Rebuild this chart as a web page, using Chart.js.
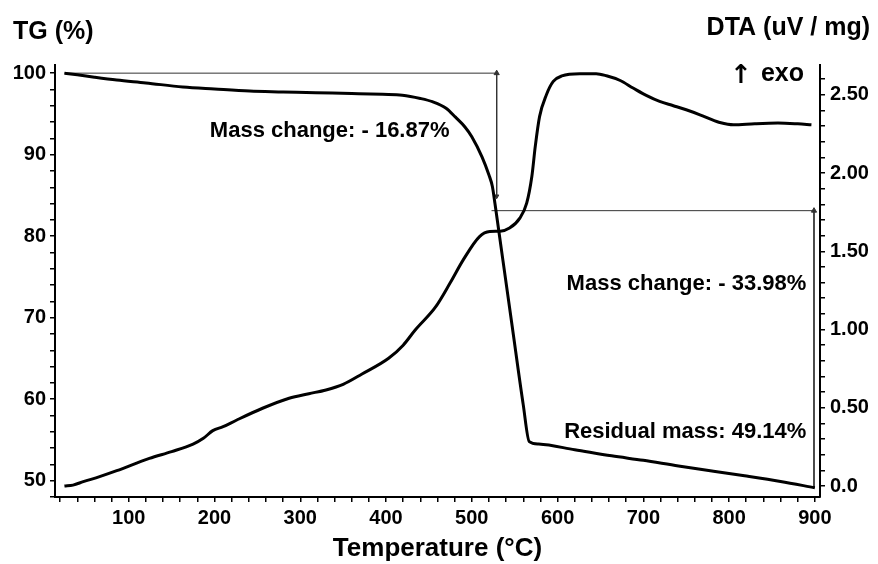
<!DOCTYPE html>
<html>
<head>
<meta charset="utf-8">
<script src="https://cdn.jsdelivr.net/npm/chart.js@4.4.1/dist/chart.umd.min.js"></script>
<style>
  body { margin: 0; background: #fff; }
  canvas { display: block; }
</style>
</head>
<body>
<canvas id="tgChart" width="878" height="564"></canvas>
<script>
// temperature (°C) and mass (%)
const tgTemp = [25, 40, 60, 86, 120, 163, 200, 241, 280, 318, 360, 396, 419, 440, 454, 470, 481, 492, 500, 512, 520, 524, 527, 531, 547, 560, 567, 578, 620, 663, 700, 741, 780, 818, 860, 900];
const tgMass = [100.0, 99.8, 99.5, 99.15, 98.8, 98.3, 98.05, 97.8, 97.7, 97.6, 97.5, 97.4, 97.3, 96.9, 96.5, 95.7, 94.6, 93.4, 92.2, 89.7, 87.5, 86.1, 84.0, 81.0, 69.0, 59.3, 54.8, 54.5, 53.8, 53.05, 52.5, 51.8, 51.2, 50.6, 49.9, 49.14];

// DTA signal (uV/mg)
const dtaTemp = [25, 35, 47, 66, 86, 124, 150, 175, 187, 198, 210, 226, 256, 287, 310, 330, 350, 372, 403, 420, 434, 458, 475, 490, 509, 521, 533, 544, 556, 564, 570, 574, 579, 587, 595, 605, 626, 645, 657, 673, 688, 704, 719, 735, 750, 766, 782, 789, 805, 830, 857, 880, 896];
const dtaVal = [0.0, 0.006, 0.028, 0.06, 0.098, 0.177, 0.22, 0.268, 0.305, 0.354, 0.379, 0.422, 0.497, 0.561, 0.59, 0.614, 0.65, 0.716, 0.816, 0.90, 0.997, 1.146, 1.30, 1.445, 1.594, 1.626, 1.628, 1.648, 1.712, 1.808, 1.978, 2.17, 2.36, 2.50, 2.585, 2.62, 2.634, 2.634, 2.621, 2.591, 2.543, 2.494, 2.457, 2.43, 2.404, 2.372, 2.336, 2.323, 2.308, 2.315, 2.319, 2.314, 2.308];

// guide lines for the mass steps
const startMass = 100;
const stepMass = 83.13;
const residualMass = 49.14;
const topLine = [{x: 25, y: startMass}, {x: 529, y: startMass}];
const step1Arrow = [{x: 529, y: startMass}, {x: 529, y: 84.9}];
const midLine = [{x: 523, y: stepMass}, {x: 900, y: stepMass}];
const step2Arrow = [{x: 899, y: stepMass}, {x: 899, y: residualMass}];

// ticks
const xMajor = [100, 200, 300, 400, 500, 600, 700, 800, 900];
const yMajor = [50, 60, 70, 80, 90, 100];
const y2Major = [0, 0.5, 1.0, 1.5, 2.0, 2.5];
const y2Labels = ['0.0', '0.50', '1.00', '1.50', '2.00', '2.50'];

const FONT = "'Liberation Sans', Arial, sans-serif";

function range(a, b, s) {
    let out = [];
    for (let v = a; v <= b + 1e-9; v += s) out.push(Math.round(v * 100) / 100);
    return out;
}

function pts(xs, ys) {
    return xs.map((x, i) => ({x: x, y: ys[i]}));
}

function axisStyle() {
    return {
        border: { display: true, color: '#000', width: 2 },
        grid: { display: true, drawOnChartArea: false, drawTicks: true, tickLength: 5, color: '#000', lineWidth: 1.5 },
    };
}

const labelsPlugin = {
    id: 'labels',
    afterDraw(chart) {
        const ctx = chart.ctx;
        const x = chart.scales.x, y = chart.scales.y;
        ctx.save();
        ctx.fillStyle = '#000';
        ctx.textBaseline = 'middle';
        ctx.font = 'bold 25px ' + FONT;
        ctx.textAlign = 'left';
        ctx.fillText('TG (%)', 13, 32);
        ctx.textAlign = 'right';
        ctx.fillText('DTA (uV / mg)', 870, 28);
        ctx.fillText('exo', 804, 74);
        ctx.font = "bold 26px 'DejaVu Sans', sans-serif";
        ctx.fillText('\u2191', 752, 76);

        ctx.font = 'bold 22px ' + FONT;
        ctx.fillText('Mass change: - 16.87%', x.getPixelForValue(474), y.getPixelForValue(92.95));
        ctx.fillText('Mass change: - 33.98%', x.getPixelForValue(890), y.getPixelForValue(74.1));
        ctx.fillText('Residual mass: 49.14%', x.getPixelForValue(890), y.getPixelForValue(56.0));
        ctx.restore();
    }
};

function guide(data, pointSizes, rotations) {
    return {
        data: data,
        yAxisID: 'y',
        borderColor: '#333',
        backgroundColor: '#333',
        borderWidth: 1,
        pointStyle: 'triangle',
        pointRadius: pointSizes,
        pointRotation: rotations,
        tension: 0
    };
}

new Chart(document.getElementById('tgChart'), {
    type: 'line',
    data: {
        datasets: [
            { data: pts(tgTemp, tgMass), yAxisID: 'y', borderColor: '#000', borderWidth: 3, pointRadius: 0, cubicInterpolationMode: 'monotone' },
            { data: pts(dtaTemp, dtaVal), yAxisID: 'y2', borderColor: '#000', borderWidth: 3, pointRadius: 0, cubicInterpolationMode: 'monotone' },
            guide(topLine, 0, 0),
            guide(step1Arrow, [3, 2.5], [0, 180]),
            guide(midLine, 0, 0),
            guide(step2Arrow, [3, 0], [0, 0])
        ]
    },
    options: {
        responsive: false,
        animation: false,
        layout: { padding: { top: 65, left: 0, right: 0, bottom: 0 } },
        plugins: { legend: { display: false }, tooltip: { enabled: false } },
        scales: {
            x: Object.assign(axisStyle(), {
                type: 'linear',
                min: 14, max: 906,
                afterBuildTicks: s => { s.ticks = range(20, 900, 20).map(v => ({value: v})); },
                afterFit: s => { s.height = 67; },
                ticks: {
                    autoSkip: false, maxRotation: 0, padding: 4, color: '#000',
                    font: { family: FONT, size: 20, weight: 'bold' },
                    callback: v => xMajor.includes(v) ? String(v) : ''
                },
                title: {
                    display: true, text: 'Temperature (\u00B0C)', color: '#000',
                    font: { family: FONT, size: 26, weight: 'bold' },
                    padding: { top: 0, bottom: 0 }
                }
            }),
            y: Object.assign(axisStyle(), {
                type: 'linear', position: 'left',
                min: 48, max: 101,
                afterBuildTicks: s => { s.ticks = range(48, 100, 2).map(v => ({value: v})); },
                afterFit: s => { s.width = 55; },
                ticks: {
                    autoSkip: false, padding: 4, color: '#000',
                    font: { family: FONT, size: 20, weight: 'bold' },
                    callback: v => yMajor.includes(v) ? String(v) : ''
                }
            }),
            y2: Object.assign(axisStyle(), {
                type: 'linear', position: 'right',
                min: -0.07, max: 2.69,
                afterBuildTicks: s => { s.ticks = range(0, 2.6, 0.1).map(v => ({value: v})); },
                afterFit: s => { s.width = 58; },
                ticks: {
                    autoSkip: false, padding: 5, color: '#000',
                    font: { family: FONT, size: 20, weight: 'bold' },
                    callback: v => {
                        const i = y2Major.findIndex(m => Math.abs(m - v) < 1e-6);
                        return i >= 0 ? y2Labels[i] : '';
                    }
                }
            })
        }
    },
    plugins: [labelsPlugin]
});
</script>
</body>
</html>
